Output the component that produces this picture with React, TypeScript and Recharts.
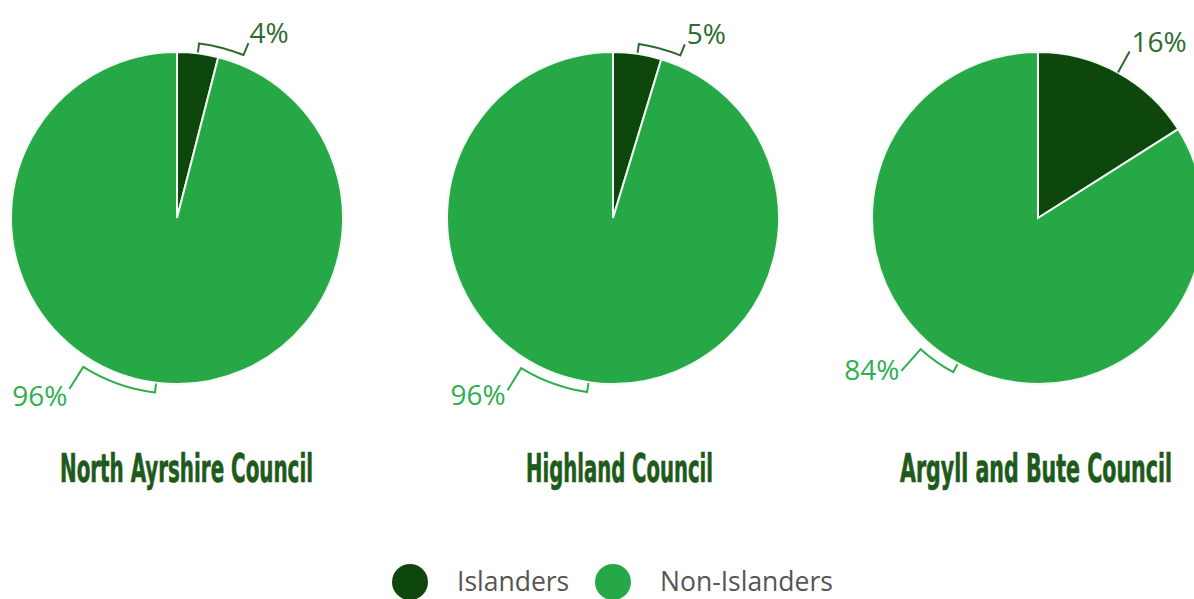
import React from 'react';
import { PieChart, Pie, Cell } from 'recharts';

const councils = ['North Ayrshire Council', 'Highland Council', 'Argyll and Bute Council'];
const seriesNames = ['Islanders', 'Non-Islanders'];
const islanders = [4, 4.7, 16];
const nonIslanders = [96, 95.3, 84];
const islanderLabels = ['4%', '5%', '16%'];
const nonIslanderLabels = ['96%', '96%', '84%'];

const COLORS = ['#0e470b', '#27a846'];
const LABEL_COLORS = ['#2c6b2e', '#2fae4e'];
const CENTERS = [177, 613, 1038];
const CY = 218;
const R = 166;

// styling config per pie / slice for the bracket labels
type LabelCfg = { span: number; lead: number; dx: number; dy: number; side: 'start' | 'end' };
const LABEL_CFG: LabelCfg[][] = [
  [
    { span: 15, lead: 13, dx: 1, dy: 0, side: 'start' },
    { span: 25, lead: 26, dx: -2, dy: 17, side: 'end' },
  ],
  [
    { span: 14, lead: 12, dx: 2, dy: 0, side: 'start' },
    { span: 23, lead: 26, dx: -2, dy: 15, side: 'end' },
  ],
  [
    { span: 0, lead: 24, dx: 2, dy: 0, side: 'start' },
    { span: 13, lead: 29, dx: -2, dy: 9, side: 'end' },
  ],
];

const RAD = Math.PI / 180;
const pt = (cx: number, cy: number, r: number, a: number) => [cx + r * Math.cos(a * RAD), cy - r * Math.sin(a * RAD)];

const makeLabel = (pieIdx: number) => (props: any) => {
  const { cx, cy, midAngle, outerRadius, index } = props;
  const cfg = LABEL_CFG[pieIdx][index];
  const color = LABEL_COLORS[index];
  const text = index === 0 ? islanderLabels[pieIdx] : nonIslanderLabels[pieIdx];
  const off = 10;
  let d = '';
  let end: number[];
  if (cfg.span > 0) {
    const a0 = midAngle;
    const a1 = midAngle - cfg.span;
    const t0 = pt(cx, cy, outerRadius + 1, a0);
    const p0 = pt(cx, cy, outerRadius + off, a0);
    const p1 = pt(cx, cy, outerRadius + off, a1);
    end = pt(cx, cy, outerRadius + off + cfg.lead, a1);
    const rr = outerRadius + off;
    d = `M${t0[0]},${t0[1]} L${p0[0]},${p0[1]} A${rr},${rr} 0 0 1 ${p1[0]},${p1[1]} L${end[0]},${end[1]}`;
  } else {
    const s = pt(cx, cy, outerRadius, midAngle);
    end = pt(cx, cy, outerRadius + cfg.lead, midAngle);
    d = `M${s[0]},${s[1]} L${end[0]},${end[1]}`;
  }
  return (
    <g>
      <path d={d} stroke={color} strokeWidth={2} fill="none" />
      <text
        x={end[0] + cfg.dx}
        y={end[1] + cfg.dy}
        textAnchor={cfg.side}
        fill={color}
        fontFamily="'Open Sans', sans-serif"
        fontSize={28}
      >
        {text}
      </text>
    </g>
  );
};

const TITLE_LEFT = [60, 526, 900];
const TITLE_WIDTH = [253, 187, 272];

export default function App() {
  const pies = councils.map((name, i) => [
    { name: seriesNames[0], value: islanders[i] },
    { name: seriesNames[1], value: nonIslanders[i] },
  ]);
  return (
    <div style={{ position: 'absolute', left: 0, top: 0, width: 1194, height: 599, background: '#fff', overflow: 'hidden' }}>
      <PieChart width={1194} height={599} margin={{ top: 0, right: 0, bottom: 0, left: 0 }}>
        {pies.map((data, i) => (
          <Pie
            key={councils[i]}
            data={data}
            dataKey="value"
            nameKey="name"
            cx={CENTERS[i]}
            cy={CY}
            outerRadius={R}
            startAngle={90}
            endAngle={-270}
            stroke="#f4f8f4"
            strokeWidth={2}
            isAnimationActive={false}
            labelLine={false}
            label={makeLabel(i)}
          >
            {data.map((d, j) => (
              <Cell key={d.name} fill={COLORS[j]} />
            ))}
          </Pie>
        ))}
      </PieChart>
      <svg width={1194} height={599} style={{ position: 'absolute', left: 0, top: 0, pointerEvents: 'none' }}>
        {councils.map((name, i) => (
          <text
            key={name}
            transform={`translate(${TITLE_LEFT[i]},482) scale(1,1.72)`}
            x={0}
            y={0}
            fill="#1d5a1b"
            stroke="#1d5a1b"
            strokeWidth={0.4}
            fontFamily="'Liberation Sans Narrow', 'DejaVu Sans Condensed', sans-serif"
            fontWeight={700}
            fontSize={23}
            textLength={TITLE_WIDTH[i]}
            lengthAdjust="spacingAndGlyphs"
          >
            {name}
          </text>
        ))}
        {seriesNames.map((s, j) => {
          const cxs = [410, 613];
          return (
            <g key={s}>
              <circle cx={cxs[j]} cy={582} r={18} fill={COLORS[j]} />
              <text
                x={cxs[j] + 47}
                y={591}
                fill="#555"
                fontFamily="'Open Sans', sans-serif"
                fontSize={26.5}
              >
                {s}
              </text>
            </g>
          );
        })}
      </svg>
    </div>
  );
}
